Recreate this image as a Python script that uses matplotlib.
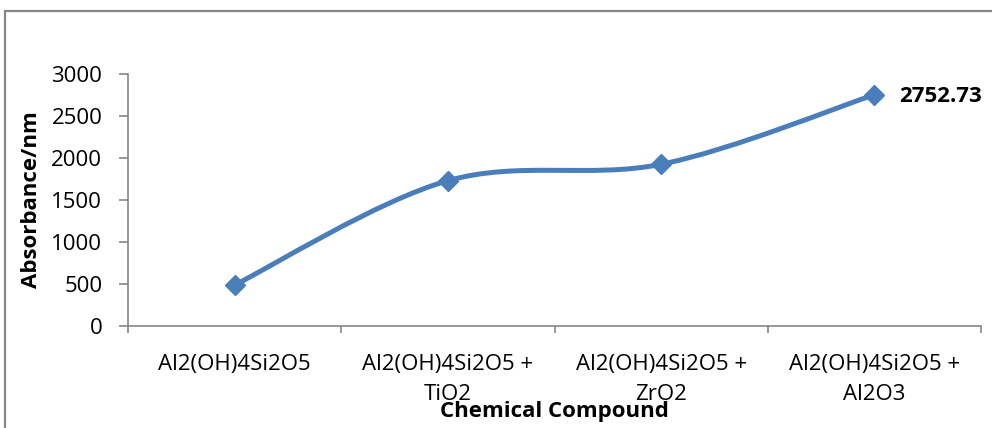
import numpy as np
import matplotlib.pyplot as plt
from matplotlib.path import Path
from matplotlib.patches import PathPatch, Rectangle

plt.rcParams['font.family'] = ['Open Sans', 'DejaVu Sans']

compounds = ["Al2(OH)4Si2O5", "Al2(OH)4Si2O5 +\nTiO2",
             "Al2(OH)4Si2O5 +\nZrO2", "Al2(OH)4Si2O5 +\nAl2O3"]
absorbance = [488, 1730, 1925, 2752.73]
yticks = [0, 500, 1000, 1500, 2000, 2500, 3000]

blue = "#4a7ebb"
grey = "#868686"
fs = 16

fig = plt.figure(figsize=(9.92, 4.28), dpi=100)
ax = fig.add_axes([128 / 992, 1 - 326 / 428, 853 / 992, 252 / 428])

# outer chart frame, runs off the right and bottom edges
fig.patches.append(Rectangle((4.5 / 992, -0.1), 1.2, 1 - 10.5 / 428 + 0.1,
                             transform=fig.transFigure, fill=False,
                             edgecolor=grey, linewidth=1.6))

# smoothed line (bezier through the points, like a spreadsheet "smooth line")
x = np.arange(len(compounds), dtype=float)
y = np.array(absorbance, dtype=float)
pts = np.column_stack([x, y])
n = len(pts)
verts = [pts[0]]
codes = [Path.MOVETO]
for i in range(n - 1):
    p0 = pts[max(i - 1, 0)]
    p1 = pts[i]
    p2 = pts[i + 1]
    p3 = pts[min(i + 2, n - 1)]
    verts += [p1 + (p2 - p0) / 6, p2 - (p3 - p1) / 6, p2]
    codes += [Path.CURVE4] * 3
ax.add_patch(PathPatch(Path(verts, codes), fill=False, edgecolor=blue,
                       linewidth=3.6, capstyle='round', joinstyle='round'))
ax.plot(x, y, linestyle='none', marker='D', markersize=10, color=blue)

ax.annotate(f"{absorbance[-1]:.2f}", (x[-1], y[-1]), xytext=(18, -1),
            textcoords='offset points', ha='left', va='center',
            fontsize=fs, fontweight='bold')

ax.set_xlim(-0.5, 3.5)
ax.set_ylim(0, 3000)
ax.set_yticks(yticks)
ax.set_xticks(np.arange(-0.5, 3.6, 1), labels=[])
ax.set_xticks(x, labels=compounds, minor=True)
ax.tick_params(axis='x', which='minor', length=0, labelsize=fs, pad=20.5)
ax.tick_params(axis='x', which='major', length=5, color=grey, width=1.2)
ax.tick_params(axis='y', length=6.5, color=grey, width=1.2, labelsize=fs, pad=12)
for lbl in ax.get_xticklabels(minor=True):
    lbl.set_linespacing(1.52)

for side in ['top', 'right']:
    ax.spines[side].set_visible(False)
for side in ['left', 'bottom']:
    ax.spines[side].set_color(grey)
    ax.spines[side].set_linewidth(1.2)

ax.set_ylabel("Absorbance/nm", fontsize=fs, fontweight='bold')
ax.yaxis.set_label_coords(-86 / 853, 0.5)
ax.set_xlabel("Chemical Compound", fontsize=fs, fontweight='bold')
ax.xaxis.set_label_coords(0.5, -(412 - 326) / 252)
ax.xaxis.label.set_va('center')

fig.savefig("out.png", dpi=100)
